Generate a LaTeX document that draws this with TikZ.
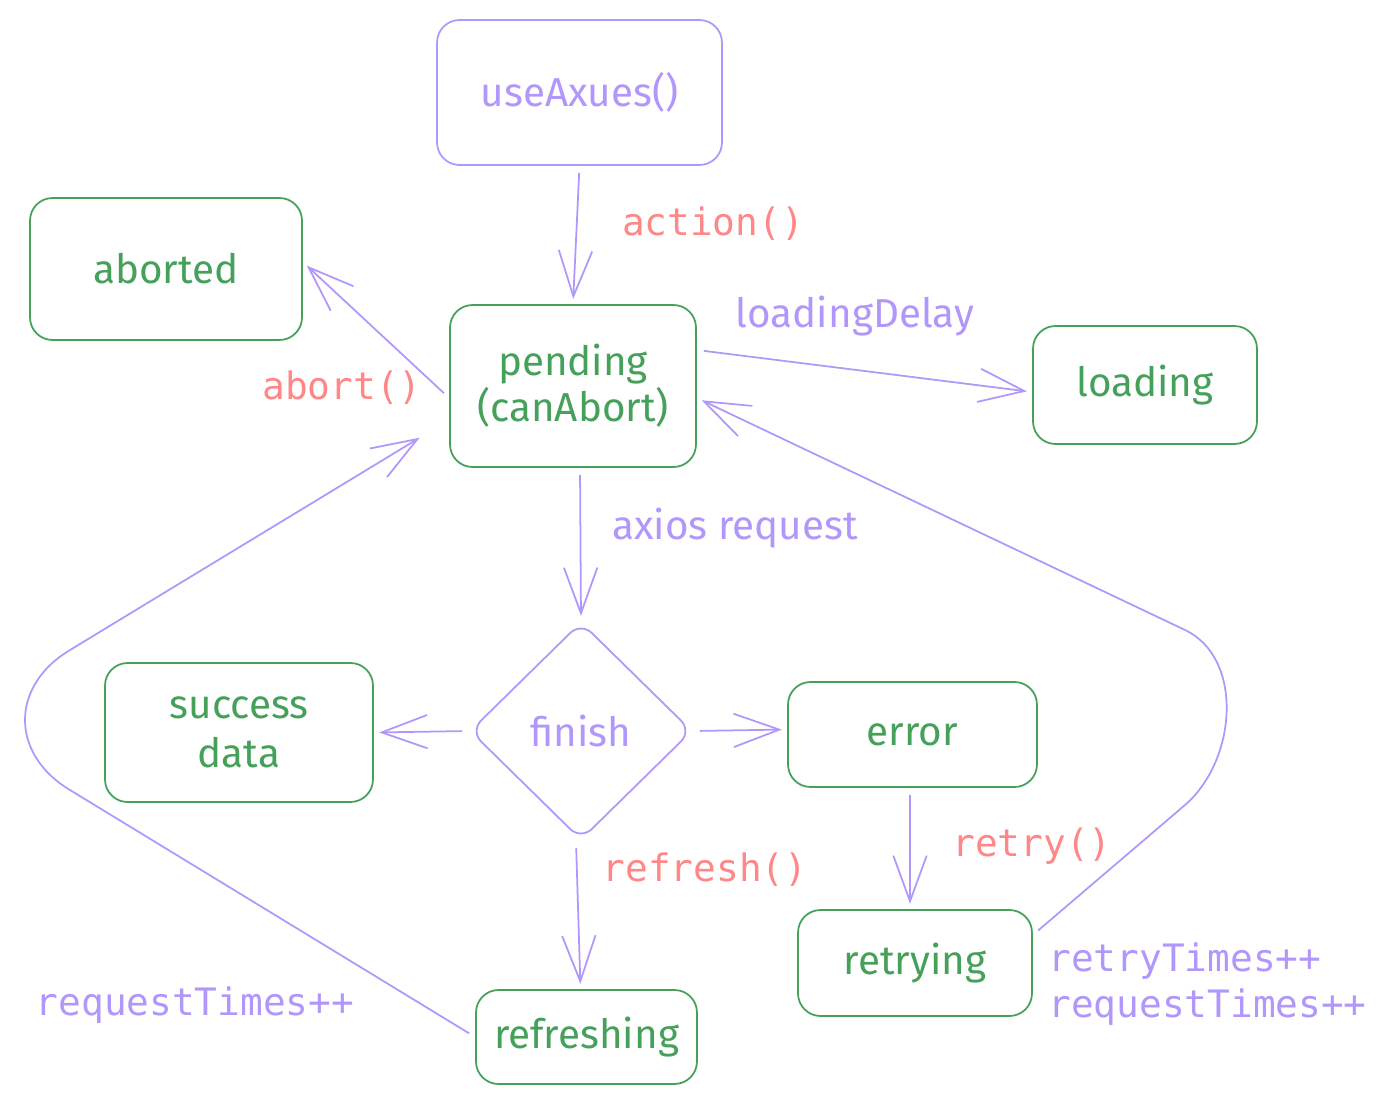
\documentclass[tikz,border=0pt]{standalone}
\usepackage{fontspec}
\setmainfont{Fira Sans}
\setmonofont{DejaVu Sans Mono}
\usetikzlibrary{arrows.meta,shapes.geometric}
\definecolor{vio}{HTML}{B197FC}
\definecolor{grn}{HTML}{45A05A}
\definecolor{sal}{HTML}{FF8787}
\newcommand\handfnt{\fontsize{23}{26}\selectfont}
\newcommand\monofnt{\ttfamily\fontsize{21.5}{27}\selectfont}
\tikzset{
  gbox/.style={draw=grn, line width=1pt, rounded corners=0.45cm, text=grn, font=\handfnt, align=center, inner sep=0pt},
  vbox/.style={gbox, draw=vio, text=vio},
  conn/.style={draw=vio, line width=1pt, -{Straight Barb[length=26pt,width=19pt,line width=1pt]}, shorten >=3pt, shorten <=4pt},
  mlbl/.style={font=\monofnt, text=sal, inner sep=0pt},
  vlbl/.style={font=\monofnt, text=vio, inner sep=0pt, align=left},
  hlbl/.style={font=\handfnt, text=vio, inner sep=0pt},
}
\begin{document}
\begin{tikzpicture}[x=0.02cm,y=-0.02cm]
\useasboundingbox (0,0) rectangle (1397,1106);
% nodes
\node[vbox, minimum width=5.7cm, minimum height=2.9cm] (use) at (579.5,92.5) {useAxues()};
\node[gbox, minimum width=5.44cm, minimum height=2.84cm] (abt) at (166,269) {aborted};
\node[gbox, minimum width=4.92cm, minimum height=3.24cm] (pend) at (573,386) {pending\\(canAbort)};
\node[gbox, minimum width=4.48cm, minimum height=2.36cm] (load) at (1145,385) {loading};
\node[draw=vio, line width=1pt, diamond, aspect=1, minimum width=4.44cm, minimum height=4.36cm, inner sep=0pt, text=vio, font=\handfnt, rounded corners=0.3cm] (fin) at (581,731) {finish};
\node[gbox, minimum width=5.36cm, minimum height=2.78cm] (succ) at (239,732.5) {success\\[2pt]data};
\node[gbox, minimum width=4.98cm, minimum height=2.1cm] (err) at (912.5,734.5) {error};
\node[gbox, minimum width=4.68cm, minimum height=2.12cm] (rtr) at (915,963) {retrying};
\node[gbox, minimum width=4.42cm, minimum height=1.88cm] (refr) at (586.5,1037) {refreshing};
% labels
\node[mlbl] (lact) at (713,224) {action()};
\node[hlbl] (ldel) at (855,316) {loadingDelay};
\node[mlbl] (labt) at (342,388) {abort()};
\node[hlbl] (lax) at (735,528) {axios request};
\node[mlbl] (lref) at (705,870) {refresh()};
\node[mlbl] (lrtr) at (1032,846) {retry()};
\node[vlbl] (lrq) at (195,1005) {requestTimes++};
\node[vlbl, anchor=west] (lrt) at (1048,984) {retryTimes++\\[-1pt]requestTimes++};
% connectors
\draw[conn] (use.south) -- (pend.north);
\draw[conn] ([yshift=-0.24cm]pend.west) -- ([yshift=0.14cm]abt.east);
\draw[conn] ([yshift=0.72cm]pend.east) -- ([yshift=-0.14cm]load.west);
\draw[conn] ([xshift=0.14cm]pend.south) -- (fin.north);
\draw[conn] (fin.west) -- (succ.east);
\draw[conn] (fin.east) -- ([yshift=0.1cm]err.west);
\draw[conn] ([xshift=-0.05cm]err.south) -- ([xshift=-0.1cm]rtr.north);
\draw[conn] ([xshift=-0.1cm]fin.south) -- ([xshift=-0.12cm]refr.north);
\draw[conn] (refr.west) -- (70,790) .. controls (10,754) and (10,686) .. (70,650) -- ([xshift=-0.5cm,yshift=-0.98cm]pend.west);
\draw[conn] ([yshift=0.56cm]rtr.east) -- (1185,805) .. controls (1237,760) and (1244,658) .. (1185,630) -- ([yshift=-0.24cm]pend.east);
\end{tikzpicture}
\end{document}
